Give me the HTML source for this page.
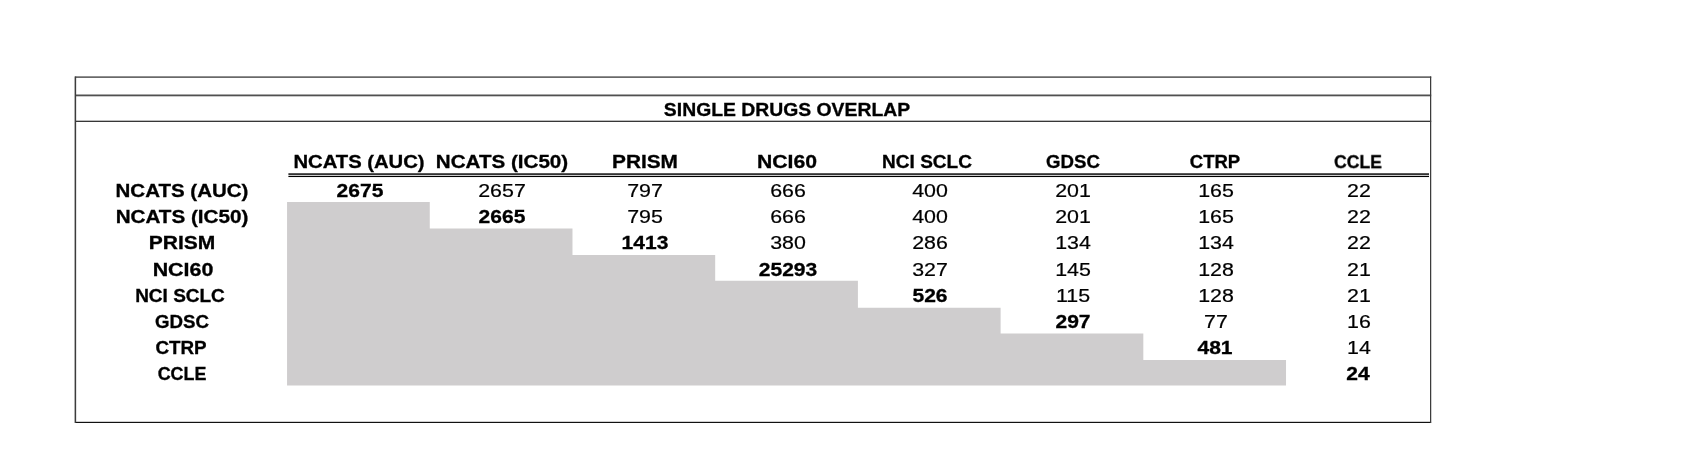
<!DOCTYPE html>
<html><head><meta charset="utf-8"><title>Single Drugs Overlap</title>
<style>
html,body{margin:0;padding:0;background:#fff;}
body{width:1688px;height:464px;position:relative;overflow:hidden;font-family:"Liberation Sans",sans-serif;color:#000;}
.l{position:absolute;background:#3a3a3a;}
.g{position:absolute;background:#cfcdce;}
.t{position:absolute;will-change:transform;white-space:nowrap;line-height:1;transform-origin:50% 50%;}
.t{-webkit-text-stroke:0.2px #000;}
.b{font-weight:bold;-webkit-text-stroke:0.3px #000;}
</style></head><body>

<svg width="1688" height="464" viewBox="0 0 1688 464" style="position:absolute;left:0;top:0">
<polygon fill="#cfcdce" points="287.06,201.90 429.77,201.90 429.77,228.60 572.48,228.60 572.48,254.90 715.19,254.90 715.19,280.80 857.90,280.80 857.90,307.70 1000.61,307.70 1000.61,333.40 1143.32,333.40 1143.32,360.10 1286.03,360.10 1286.03,385.40 287.06,385.40"/>
<rect x="75.20" y="76.45" width="1356.00" height="1.30" fill="#383838"/>
<rect x="75.20" y="94.50" width="1356.00" height="1.80" fill="#505050"/>
<rect x="75.20" y="120.70" width="1356.00" height="1.20" fill="#222"/>
<rect x="75.20" y="421.80" width="1355.90" height="1.20" fill="#111"/>
<rect x="74.60" y="76.45" width="1.55" height="346.50" fill="#3c3c3c"/>
<rect x="1430.00" y="76.45" width="1.25" height="346.50" fill="#3c3c3c"/>
<rect x="288.40" y="173.35" width="1140.60" height="1.45" fill="#000"/>
<rect x="288.40" y="175.80" width="1140.60" height="1.25" fill="#000"/>
</svg>
<div class="t b" style="left:787.30px;top:110.80px;font-size:17.70px;transform:translate(-50%,-50%) scaleX(1.0942)">SINGLE DRUGS OVERLAP</div>
<div class="t b" style="left:358.87px;top:162.90px;font-size:17.70px;transform:translate(-50%,-50%) scaleX(1.1444)">NCATS (AUC)</div>
<div class="t b" style="left:182.27px;top:191.70px;font-size:17.70px;transform:translate(-50%,-50%) scaleX(1.1594)">NCATS (AUC)</div>
<div class="t b" style="left:502.20px;top:162.90px;font-size:17.70px;transform:translate(-50%,-50%) scaleX(1.1645)">NCATS (IC50)</div>
<div class="t b" style="left:182.26px;top:217.87px;font-size:17.70px;transform:translate(-50%,-50%) scaleX(1.1677)">NCATS (IC50)</div>
<div class="t b" style="left:645.13px;top:162.90px;font-size:17.70px;transform:translate(-50%,-50%) scaleX(1.1776)">PRISM</div>
<div class="t b" style="left:182.36px;top:244.34px;font-size:17.70px;transform:translate(-50%,-50%) scaleX(1.1885)">PRISM</div>
<div class="t b" style="left:787.19px;top:162.90px;font-size:17.70px;transform:translate(-50%,-50%) scaleX(1.1961)">NCI60</div>
<div class="t b" style="left:182.54px;top:270.51px;font-size:17.70px;transform:translate(-50%,-50%) scaleX(1.2113)">NCI60</div>
<div class="t b" style="left:927.36px;top:162.90px;font-size:17.70px;transform:translate(-50%,-50%) scaleX(1.0747)">NCI SCLC</div>
<div class="t b" style="left:179.78px;top:297.38px;font-size:17.70px;transform:translate(-50%,-50%) scaleX(1.0738)">NCI SCLC</div>
<div class="t b" style="left:1072.76px;top:162.90px;font-size:17.70px;transform:translate(-50%,-50%) scaleX(1.0524)">GDSC</div>
<div class="t b" style="left:181.86px;top:322.55px;font-size:17.70px;transform:translate(-50%,-50%) scaleX(1.0560)">GDSC</div>
<div class="t b" style="left:1215.43px;top:162.90px;font-size:17.70px;transform:translate(-50%,-50%) scaleX(1.0478)">CTRP</div>
<div class="t b" style="left:181.38px;top:348.72px;font-size:17.70px;transform:translate(-50%,-50%) scaleX(1.0642)">CTRP</div>
<div class="t b" style="left:1357.53px;top:162.90px;font-size:17.70px;transform:translate(-50%,-50%) scaleX(0.9965)">CCLE</div>
<div class="t b" style="left:181.76px;top:374.89px;font-size:17.70px;transform:translate(-50%,-50%) scaleX(1.0122)">CCLE</div>
<div class="t b" style="left:359.86px;top:191.10px;font-size:18.30px;transform:translate(-50%,-50%) scaleX(1.1500)">2675</div>
<div class="t" style="left:502.02px;top:191.10px;font-size:18.30px;transform:translate(-50%,-50%) scaleX(1.1700)">2657</div>
<div class="t" style="left:644.77px;top:191.10px;font-size:18.30px;transform:translate(-50%,-50%) scaleX(1.1700)">797</div>
<div class="t" style="left:787.52px;top:191.10px;font-size:18.30px;transform:translate(-50%,-50%) scaleX(1.1700)">666</div>
<div class="t" style="left:930.27px;top:191.10px;font-size:18.30px;transform:translate(-50%,-50%) scaleX(1.1700)">400</div>
<div class="t" style="left:1073.03px;top:191.10px;font-size:18.30px;transform:translate(-50%,-50%) scaleX(1.1700)">201</div>
<div class="t" style="left:1215.78px;top:191.10px;font-size:18.30px;transform:translate(-50%,-50%) scaleX(1.1700)">165</div>
<div class="t" style="left:1358.53px;top:191.10px;font-size:18.30px;transform:translate(-50%,-50%) scaleX(1.1700)">22</div>
<div class="t b" style="left:502.42px;top:217.27px;font-size:18.30px;transform:translate(-50%,-50%) scaleX(1.1500)">2665</div>
<div class="t" style="left:644.77px;top:217.27px;font-size:18.30px;transform:translate(-50%,-50%) scaleX(1.1700)">795</div>
<div class="t" style="left:787.52px;top:217.27px;font-size:18.30px;transform:translate(-50%,-50%) scaleX(1.1700)">666</div>
<div class="t" style="left:930.27px;top:217.27px;font-size:18.30px;transform:translate(-50%,-50%) scaleX(1.1700)">400</div>
<div class="t" style="left:1073.03px;top:217.27px;font-size:18.30px;transform:translate(-50%,-50%) scaleX(1.1700)">201</div>
<div class="t" style="left:1215.78px;top:217.27px;font-size:18.30px;transform:translate(-50%,-50%) scaleX(1.1700)">165</div>
<div class="t" style="left:1358.53px;top:217.27px;font-size:18.30px;transform:translate(-50%,-50%) scaleX(1.1700)">22</div>
<div class="t b" style="left:644.98px;top:243.44px;font-size:18.30px;transform:translate(-50%,-50%) scaleX(1.1500)">1413</div>
<div class="t" style="left:787.52px;top:243.44px;font-size:18.30px;transform:translate(-50%,-50%) scaleX(1.1700)">380</div>
<div class="t" style="left:930.27px;top:243.44px;font-size:18.30px;transform:translate(-50%,-50%) scaleX(1.1700)">286</div>
<div class="t" style="left:1073.03px;top:243.44px;font-size:18.30px;transform:translate(-50%,-50%) scaleX(1.1700)">134</div>
<div class="t" style="left:1215.78px;top:243.44px;font-size:18.30px;transform:translate(-50%,-50%) scaleX(1.1700)">134</div>
<div class="t" style="left:1358.53px;top:243.44px;font-size:18.30px;transform:translate(-50%,-50%) scaleX(1.1700)">22</div>
<div class="t b" style="left:787.54px;top:269.61px;font-size:18.30px;transform:translate(-50%,-50%) scaleX(1.1500)">25293</div>
<div class="t" style="left:930.27px;top:269.61px;font-size:18.30px;transform:translate(-50%,-50%) scaleX(1.1700)">327</div>
<div class="t" style="left:1073.03px;top:269.61px;font-size:18.30px;transform:translate(-50%,-50%) scaleX(1.1700)">145</div>
<div class="t" style="left:1215.78px;top:269.61px;font-size:18.30px;transform:translate(-50%,-50%) scaleX(1.1700)">128</div>
<div class="t" style="left:1358.53px;top:269.61px;font-size:18.30px;transform:translate(-50%,-50%) scaleX(1.1700)">21</div>
<div class="t b" style="left:930.10px;top:295.78px;font-size:18.30px;transform:translate(-50%,-50%) scaleX(1.1500)">526</div>
<div class="t" style="left:1073.03px;top:295.78px;font-size:18.30px;transform:translate(-50%,-50%) scaleX(1.1700)">115</div>
<div class="t" style="left:1215.78px;top:295.78px;font-size:18.30px;transform:translate(-50%,-50%) scaleX(1.1700)">128</div>
<div class="t" style="left:1358.53px;top:295.78px;font-size:18.30px;transform:translate(-50%,-50%) scaleX(1.1700)">21</div>
<div class="t b" style="left:1072.66px;top:321.95px;font-size:18.30px;transform:translate(-50%,-50%) scaleX(1.1500)">297</div>
<div class="t" style="left:1215.78px;top:321.95px;font-size:18.30px;transform:translate(-50%,-50%) scaleX(1.1700)">77</div>
<div class="t" style="left:1358.53px;top:321.95px;font-size:18.30px;transform:translate(-50%,-50%) scaleX(1.1700)">16</div>
<div class="t b" style="left:1215.22px;top:348.12px;font-size:18.30px;transform:translate(-50%,-50%) scaleX(1.1500)">481</div>
<div class="t" style="left:1358.53px;top:348.12px;font-size:18.30px;transform:translate(-50%,-50%) scaleX(1.1700)">14</div>
<div class="t b" style="left:1357.78px;top:374.29px;font-size:18.30px;transform:translate(-50%,-50%) scaleX(1.1500)">24</div>
</body></html>
